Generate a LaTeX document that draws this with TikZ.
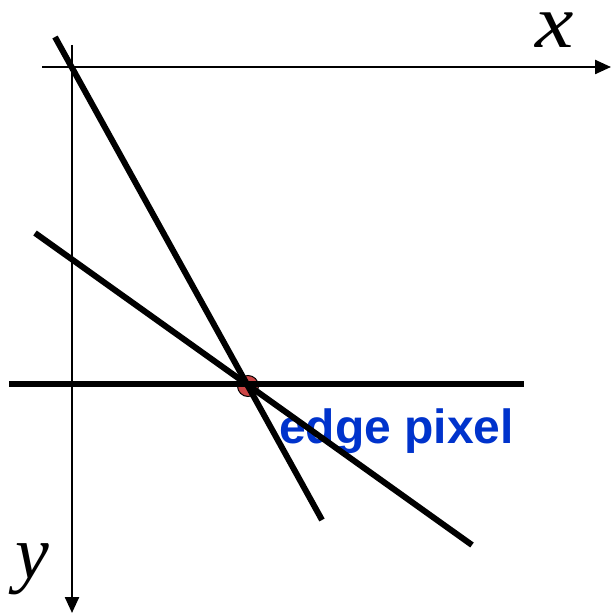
\documentclass[tikz,border=0pt]{standalone}
\usepackage{fontspec}
\setmainfont{Liberation Serif}
\newfontfamily\labelsans{Liberation Sans}
\usetikzlibrary{arrows.meta}
\definecolor{edgeblue}{RGB}{0,51,204}
\definecolor{dotred}{RGB}{205,70,70}
\tikzset{
  axisline/.style={line width=2.4pt,-{Triangle[length=16pt,width=14pt]}},
  edgeline/.style={line width=6pt},
  axislabel/.style={font=\fontsize{76}{76}\selectfont\itshape,inner sep=0pt},
  xlabelstyle/.style={font=\fontsize{72}{72}\selectfont\itshape,inner sep=0pt},
  bluelabel/.style={font=\labelsans\bfseries\fontsize{48}{48}\selectfont,text=edgeblue,inner sep=0pt}
}
\begin{document}
\begin{tikzpicture}[x=1pt,y=-1pt]
\useasboundingbox (0,0) rectangle (611,615);
% axes
\coordinate (xs) at (42,67);
\coordinate (xe) at (611,67);
\coordinate (ys) at (72,45);
\coordinate (ye) at (72,613);
\draw[axisline] (xs) -- (xe);
\draw[axisline] (ys) -- (ye);
\node[xlabelstyle,anchor=base] (xl) at (555,48) {\scalebox{1.2}[1.05]{x}};
\node[axislabel,anchor=base] (yl) at (32,578) {y};
% label
\node[bluelabel,anchor=base west] (lab) at (279,443) {edge pixel};
% point
\node[circle,draw=black,line width=1pt,fill=dotred,minimum size=21pt,inner sep=0pt] (pix) at (248,386) {};
% lines
\coordinate (a1) at (55,37);
\coordinate (a2) at (322,520);
\coordinate (b1) at (35,233);
\coordinate (b2) at (472,545);
\coordinate (h1) at (9,384);
\coordinate (h2) at (524,384);
\draw[edgeline] (h1) -- (h2);
\draw[edgeline] (a1) -- (a2);
\draw[edgeline] (b1) -- (b2);
\end{tikzpicture}
\end{document}
